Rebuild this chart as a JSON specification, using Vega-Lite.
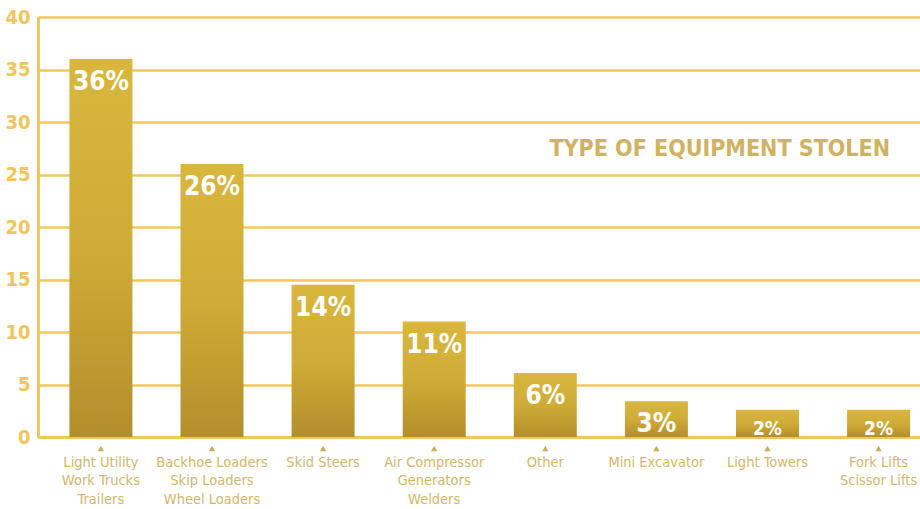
{
  "$schema": "https://vega.github.io/schema/vega-lite/v6.json",
  "width": 882,
  "height": 420,
  "autosize": {"type": "none"},
  "padding": {"left": 38, "top": 17, "right": 0, "bottom": 72},
  "background": "white",
  "config": {"view": {"stroke": null}, "font": "DejaVu Sans Condensed, DejaVu Sans, sans-serif"},
  "title": {
    "text": "TYPE OF EQUIPMENT STOLEN",
    "anchor": "end",
    "frame": "group",
    "orient": "top",
    "fontSize": 23,
    "fontWeight": "bold",
    "color": "#cfb263",
    "baseline": "top",
    "offset": 0,
    "dx": -30,
    "dy": 154
  },
  "data": {
    "values": [
      {"category": "Light Utility|Work Trucks|Trailers", "value": 36, "label": "36%"},
      {"category": "Backhoe Loaders|Skip Loaders|Wheel Loaders", "value": 26, "label": "26%"},
      {"category": "Skid Steers", "value": 14.5, "label": "14%"},
      {"category": "Air Compressor|Generators|Welders", "value": 11, "label": "11%"},
      {"category": "Other", "value": 6.1, "label": "6%"},
      {"category": "Mini Excavator", "value": 3.4, "label": "3%"},
      {"category": "Light Towers", "value": 2.6, "label": "2%"},
      {"category": "Fork Lifts|Scissor Lifts", "value": 2.6, "label": "2%"}
    ]
  },
  "encoding": {
    "x": {
      "field": "category",
      "type": "nominal",
      "sort": null,
      "scale": {"paddingInner": 0.433, "paddingOuter": 0.186, "align": 0.76},
      "axis": {
        "title": null,
        "labelAngle": 0,
        "labelExpr": "split(datum.value, '|')",
        "labelFontSize": 14.5,
        "labelLineHeight": 18.5,
        "labelColor": "#d2b76b",
        "labelPadding": 18,
        "ticks": false,
        "domain": true,
        "domainColor": "#f1c75a",
        "domainWidth": 3,
        "grid": false
      }
    }
  },
  "layer": [
    {
      "mark": {
        "type": "bar",
        "fill": {
          "gradient": "linear",
          "x1": 0, "y1": 0, "x2": 0, "y2": 1,
          "stops": [
            {"offset": 0, "color": "#d9b63d"},
            {"offset": 0.5, "color": "#cfac37"},
            {"offset": 1, "color": "#b38e2c"}
          ]
        }
      },
      "encoding": {
        "y": {
          "field": "value",
          "type": "quantitative",
          "scale": {"domain": [0, 40], "nice": false},
          "axis": {
            "title": null,
            "values": [0, 5, 10, 15, 20, 25, 30, 35, 40],
            "grid": true,
            "gridColor": "#f2c85c",
            "gridWidth": 2.5,
            "domain": true,
            "domainColor": "#f1c75a",
            "domainWidth": 3,
            "ticks": false,
            "labelPadding": 8,
            "labelFontSize": 20,
            "labelFontWeight": "bold",
            "labelColor": "#f0c65a"
          }
        }
      }
    },
    {
      "mark": {"type": "text", "baseline": "top", "dy": 10, "color": "white", "fontWeight": "bold"},
      "encoding": {
        "y": {"field": "value", "type": "quantitative"},
        "text": {"field": "label"},
        "size": {"condition": {"test": "datum.value < 3", "value": 19}, "value": 26}
      }
    },
    {
      "mark": {"type": "point", "shape": "triangle-up", "filled": true, "size": 40, "color": "#c9ad5c", "opacity": 1},
      "encoding": {"y": {"datum": -1.1, "type": "quantitative"}}
    }
  ]
}
